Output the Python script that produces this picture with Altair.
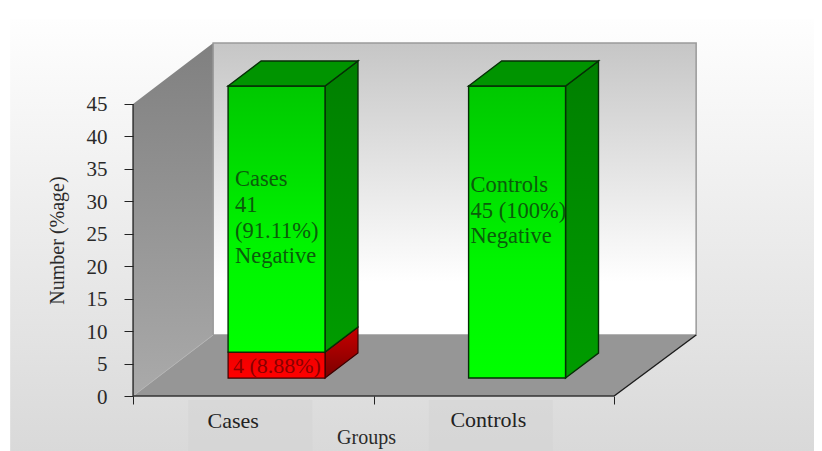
import altair as alt
import pandas as pd

# ---- values
categories = ["Cases", "Controls"]
positive = [4, 0]
negative = [41, 45]
label_lines = [
    ["Cases", "41", "(91.11%)", "Negative"],
    ["Controls", "45 (100%)", "Negative"],
]
y_ticks = [0, 5, 10, 15, 20, 25, 30, 35, 40, 45]
x_ticks = [0, 1, 2]
y_title = "Number (%age)"
x_title = "Groups"
pos_label = "4 (8.88%)"

# ---- oblique projection, in axis units
FLOOR_DX, FLOOR_DY = 0.333, 9.4
BAR_DX, BAR_DY = 0.137, 3.85
BAR_LEFT, BAR_W = 0.395, 0.403
BAR_BASE = 2.77
YMAX = 45
XDOM = [-0.52, 2.831]
YDOM = [-8.47, 59.78]

FONT = "Liberation Serif"
axis_font = dict(labelFont=FONT, labelFontSize=21, labelColor="#2a2a2a", titleFont=FONT,
                 titleFontSize=20, titleFontWeight="normal", titleColor="#2a2a2a",
                 tickColor="#222222", domain=False, grid=False, zindex=1)
X = alt.X("x:Q", scale=alt.Scale(domain=XDOM, nice=False, zero=False),
          axis=alt.Axis(values=x_ticks, labels=False, tickSize=8, offset=-55,
                        title=x_title, titleX=358, titleY=31, **axis_font))
Y = alt.Y("y:Q", scale=alt.Scale(domain=YDOM, nice=False, zero=False),
          axis=alt.Axis(values=y_ticks, tickSize=9, labelPadding=17, labelOffset=1, offset=-125,
                        title=y_title, titleX=-66, titleY=232, **axis_font))


def grad(*stops):
    return alt.Gradient(
        gradient="linear", x1=0, x2=0, y1=0, y2=1,
        stops=[alt.GradientStop(offset=o, color=c) for o, c in stops],
    )


def vpoly(xs, lo, hi, fill, **kw):
    """Polygon with vertical edges at each x."""
    df = pd.DataFrame({"x": xs, "y": lo, "y2": hi})
    return alt.Chart(df).mark_area(fill=fill, orient="vertical", **kw).encode(
        x=X, y=Y, y2="y2:Q"
    )


def hpoly(ys, left, right, fill, **kw):
    """Polygon with horizontal edges at each y."""
    df = pd.DataFrame({"y": ys, "x": left, "x2": right})
    return alt.Chart(df).mark_area(fill=fill, orient="horizontal", **kw).encode(
        y=Y, x=X, x2="x2:Q"
    )


def label(x, y, text, color, size=22, align="left", angle=0):
    df = pd.DataFrame({"x": [x], "y": [y], "t": [text]})
    return alt.Chart(df).mark_text(
        font=FONT, fontSize=size, color=color, align=align, baseline="middle", angle=angle
    ).encode(x=X, y=Y, text="t:N")


layers = []

# page background
layers.append(vpoly([-0.511, XDOM[1]], [YDOM[0]] * 2, [58.1] * 2,
                    grad((0, "#fefefe"), (1, "#d9d9d9"))))

# pale bands behind the category names
for i in range(2):
    layers.append(vpoly([i + 0.229, i + 0.745], [YDOM[0]] * 2, [-0.6] * 2, "#d4d4d4", opacity=0.55))

# walls and floor
layers.append(vpoly([0, FLOOR_DX], [0, FLOOR_DY], [YMAX, YMAX + FLOOR_DY],
                    grad((0, "#808080"), (1, "#aaaaaa"))))
layers.append(vpoly([FLOOR_DX, 2 + FLOOR_DX + 0.008], [FLOOR_DY] * 2, [YMAX + FLOOR_DY] * 2,
                    grad((0, "#c6c6c6"), (0.82, "#ffffff"), (1, "#ffffff")),
                    stroke="#9a9a9a", strokeWidth=1.5))
layers.append(hpoly([0, FLOOR_DY], [0, FLOOR_DX], [2, 2 + FLOOR_DX + 0.008], "#969696"))

# edges of the floor
edge_l = pd.DataFrame({"x": [0, FLOOR_DX], "y": [0, FLOOR_DY]})
edge_r = pd.DataFrame({"x": [2, 2 + FLOOR_DX + 0.008], "y": [0, FLOOR_DY]})
layers.append(alt.Chart(edge_l).mark_line(color="#b5b5b5", strokeWidth=1).encode(x=X, y=Y))
layers.append(alt.Chart(edge_r).mark_line(color="#1c1c1c", strokeWidth=1.4).encode(x=X, y=Y))

# axis lines
ax_y = pd.DataFrame({"x": [0], "y": [0], "y2": [YMAX]})
ax_x = pd.DataFrame({"x": [0], "x2": [2], "y": [0]})
layers.append(alt.Chart(ax_y).mark_rule(color="#333333", strokeWidth=1.5).encode(x=X, y=Y, y2="y2:Q"))
layers.append(alt.Chart(ax_x).mark_rule(color="#333333", strokeWidth=1.5).encode(x=X, x2="x2:Q", y=Y))

# bars
EDGE = dict(stroke="#062e06", strokeWidth=1.4)
RED_EDGE = dict(stroke="#3a0000", strokeWidth=1.2)
for i, cat in enumerate(categories):
    l, r = i + BAR_LEFT, i + BAR_LEFT + BAR_W
    base = BAR_BASE
    mid = base + positive[i]
    top = mid + negative[i]
    if positive[i]:
        layers.append(vpoly([r, r + BAR_DX], [base, base + BAR_DY], [mid, mid + BAR_DY],
                            grad((0, "#c80000"), (1, "#7a0000")), **RED_EDGE))
        layers.append(vpoly([l, r], [base, base], [mid, mid],
                            grad((0, "#f00000"), (1, "#ff0000")), **RED_EDGE))
    layers.append(vpoly([r, r + BAR_DX], [mid, mid + BAR_DY], [top, top + BAR_DY],
                        grad((0, "#007f00"), (1, "#009c00")), **EDGE))
    layers.append(vpoly([l, r], [mid, mid], [top, top],
                        grad((0, "#00c800"), (0.6, "#00f400"), (1, "#00ff00")), **EDGE))
    layers.append(hpoly([top, top + BAR_DY], [l, l + BAR_DX], [r, r + BAR_DX], "#009400", **EDGE))

# labels in the bars
for j, line in enumerate(label_lines[0]):
    layers.append(label(BAR_LEFT + 0.029, 33.4 - 3.95 * j, line, "#0b5c0b", size=22.5))
for j, line in enumerate(label_lines[1]):
    layers.append(label(1 + BAR_LEFT + 0.008, 32.5 - 3.95 * j, line, "#0b5c0b", size=22.5))
layers.append(label(BAR_LEFT + 0.02, 4.6, pos_label, "#8a0000"))

# category names
layers.append(label(0.416, -3.8, categories[0], "#222222", align="center"))
layers.append(label(1.477, -3.7, categories[1], "#222222", align="center"))

chart = alt.layer(*layers).properties(
    width=806, height=443, padding=0,
    autosize=alt.AutoSizeParams(type="none"),
    background="white",
).configure_view(stroke=None)

chart.save("out.html", embed_options={"renderer": "svg", "actions": False})
